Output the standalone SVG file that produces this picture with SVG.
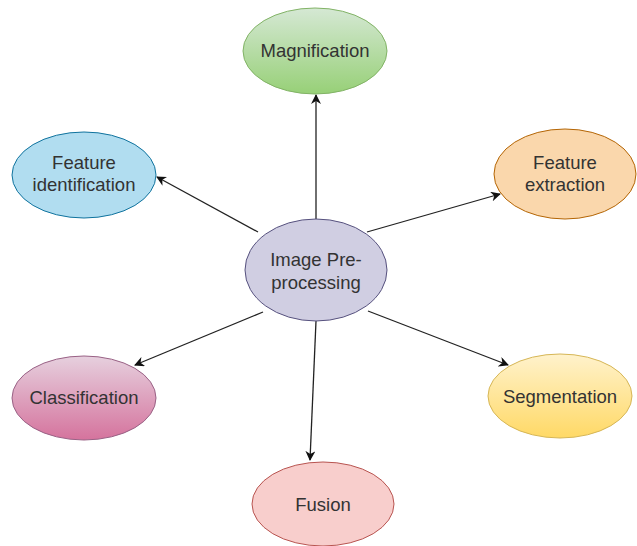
<svg xmlns="http://www.w3.org/2000/svg" width="637" height="546" viewBox="0 0 637 546">
<defs>
<linearGradient id="gGreen" x1="0" y1="0" x2="0" y2="1"><stop offset="0" stop-color="#d5e8d4"/><stop offset="1" stop-color="#97d077"/></linearGradient>
<linearGradient id="gPink" x1="0" y1="0" x2="0" y2="1"><stop offset="0" stop-color="#e6d0de"/><stop offset="1" stop-color="#d5739d"/></linearGradient>
<linearGradient id="gYellow" x1="0" y1="0" x2="0" y2="1"><stop offset="0" stop-color="#fff2cc"/><stop offset="1" stop-color="#ffd966"/></linearGradient>
<marker id="arrow" viewBox="0 0 10 10" refX="9" refY="5" markerWidth="10" markerHeight="10" markerUnits="userSpaceOnUse" orient="auto">
<path d="M0,0 L10,5 L0,10 L3,5 Z" fill="#111"/>
</marker>
</defs>
<style>
text{font-family:"Liberation Sans",Arial,sans-serif;font-size:18.5px;fill:#333;text-anchor:middle}
ellipse{stroke-width:1}
.c{stroke:#222;stroke-width:1.3;fill:none;marker-end:url(#arrow)}
</style>
<rect width="637" height="546" fill="#fff"/>
<g id="connectors">
<line class="c" x1="316" y1="219" x2="316" y2="95"/>
<line class="c" x1="258" y1="232" x2="157" y2="177"/>
<line class="c" x1="367" y1="232" x2="500" y2="194"/>
<line class="c" x1="263" y1="312" x2="135" y2="365"/>
<line class="c" x1="368" y1="311" x2="508" y2="365"/>
<line class="c" x1="316" y1="321" x2="310" y2="460"/>
</g>
<g id="center">
<ellipse cx="316" cy="270" rx="71" ry="51" fill="#d0cee2" stroke="#56517e"/>
<text x="316" y="266">Image Pre-</text>
<text x="316" y="289">processing</text>
</g>
<g id="magnification">
<ellipse cx="315" cy="51" rx="72" ry="43" fill="url(#gGreen)" stroke="#82b366"/>
<text x="315" y="57">Magnification</text>
</g>
<g id="feature-identification">
<ellipse cx="84" cy="175" rx="72" ry="43" fill="#b1ddf0" stroke="#10739e"/>
<text x="84" y="169">Feature</text>
<text x="84" y="191">identification</text>
</g>
<g id="feature-extraction">
<ellipse cx="565" cy="174" rx="71" ry="45" fill="#fad7ac" stroke="#b46504"/>
<text x="565" y="169">Feature</text>
<text x="565" y="191">extraction</text>
</g>
<g id="classification">
<ellipse cx="84" cy="398" rx="72" ry="42" fill="url(#gPink)" stroke="#996185"/>
<text x="84" y="404">Classification</text>
</g>
<g id="segmentation">
<ellipse cx="560" cy="396" rx="72" ry="42" fill="url(#gYellow)" stroke="#d6b656"/>
<text x="560" y="403">Segmentation</text>
</g>
<g id="fusion">
<ellipse cx="323" cy="504" rx="71" ry="42" fill="#f8cecc" stroke="#b85450"/>
<text x="323" y="511">Fusion</text>
</g>
</svg>
